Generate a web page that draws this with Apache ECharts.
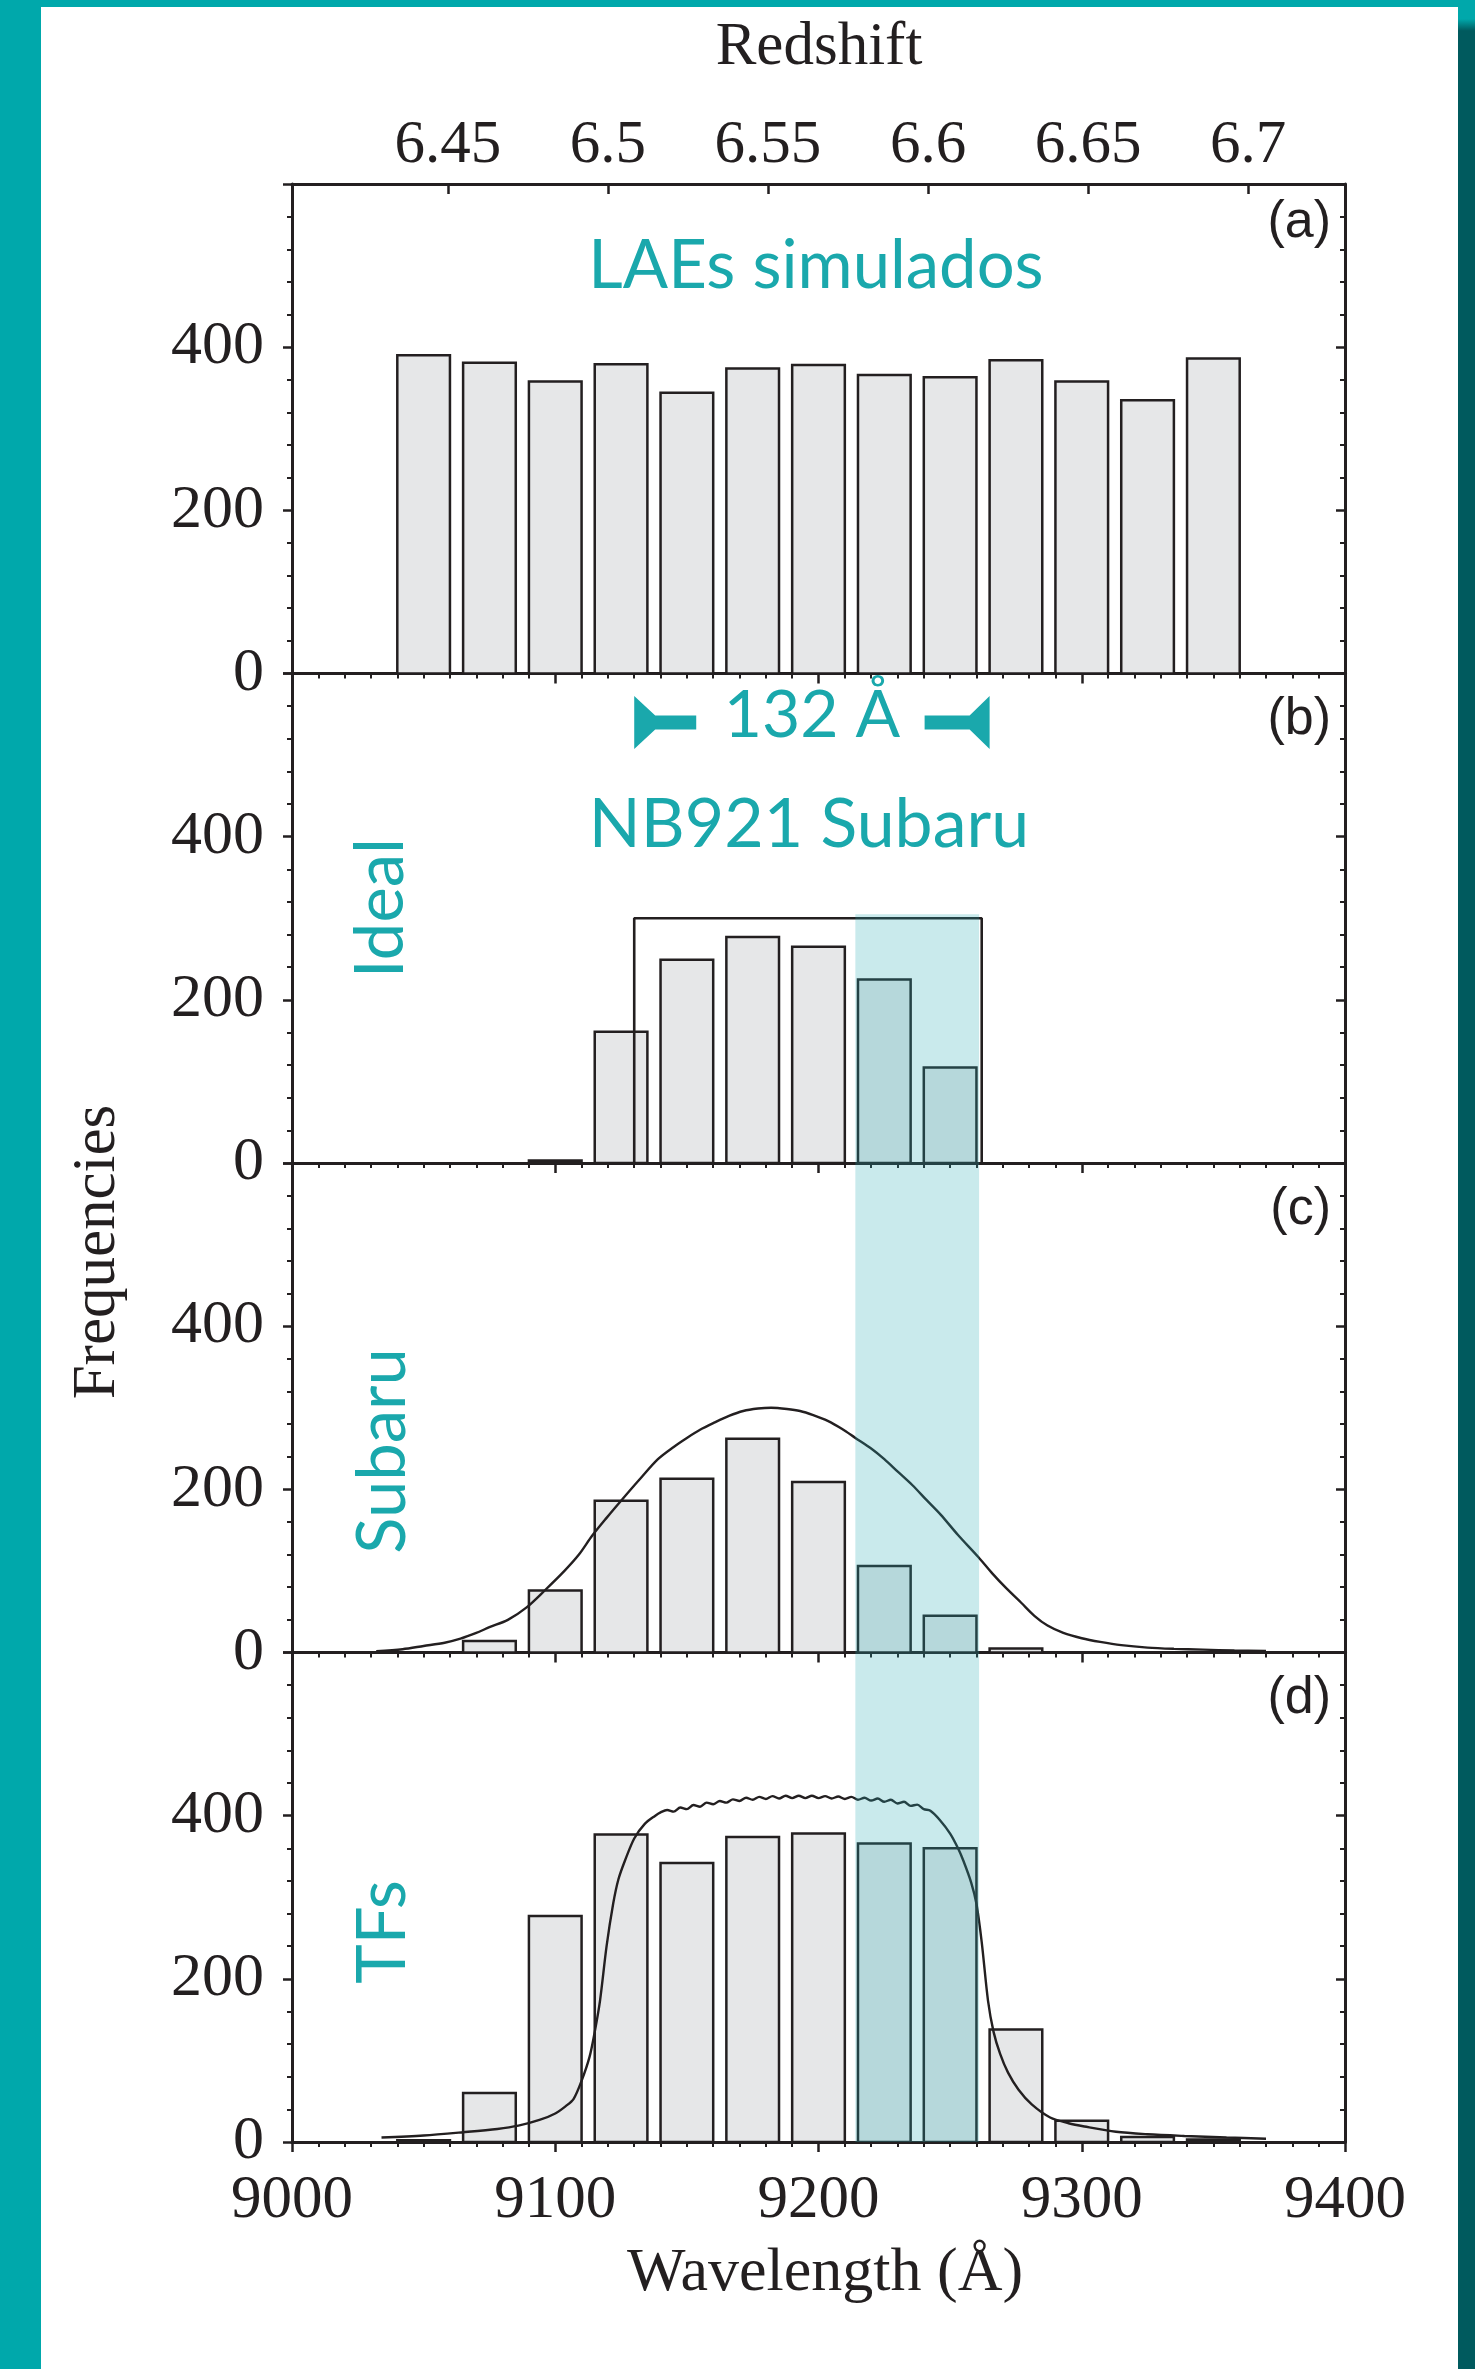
<!DOCTYPE html>
<html>
<head>
<meta charset="utf-8">
<script src="https://cdn.jsdelivr.net/npm/echarts@6/dist/echarts.min.js"></script>
<style>
html,body{margin:0;padding:0;background:#ffffff;}
#chart{width:1475px;height:2369px;}
</style>
</head>
<body>
<div id="chart"></div>
<script>
// ---------------- data ----------------
const WL_MIN = 9000, WL_MAX = 9400, WL_STEP = 100;
const FREQ_MAX = 600, FREQ_STEP = 200;
const LYA_REST = 1216;
const redshiftTicks = [6.45, 6.5, 6.55, 6.6, 6.65, 6.7];

const binCenters = [9050, 9075, 9100, 9125, 9150, 9175, 9200, 9225, 9250, 9275, 9300, 9325, 9350];
const countsA = [390, 381, 358, 379, 344, 374, 378, 366, 363, 384, 358, 335, 386];
const countsB = [0, 0, 3, 161, 249, 277, 265, 225, 117, 0, 0, 0, 0];
const countsC = [0, 14, 76, 186, 213, 262, 209, 106, 45, 5, 0, 0, 0];
const countsD = [2, 60, 277, 377, 342, 374, 378, 366, 360, 138, 26, 6, 3];

const idealFilter = [[9130, 0], [9130, 300], [9262, 300], [9262, 0]];

const subaruCurve = [
  [9032, 1.5], [9042, 4], [9050, 8], [9058, 12], [9064, 17], [9070, 24], [9075, 31], [9082, 40],
  [9089, 55], [9096, 76], [9103.5, 100], [9109, 120], [9114, 143], [9119.5, 165], [9125, 186],
  [9132, 212], [9139, 237], [9145, 252], [9150, 263], [9155, 273], [9160.6, 282], [9166, 290],
  [9171.4, 296], [9177, 299], [9182, 300], [9188, 298.5], [9193, 296], [9198, 291], [9203.5, 284],
  [9209, 274], [9214, 263], [9220, 250], [9225, 237], [9230, 222], [9235.7, 205], [9241, 187],
  [9246.4, 169], [9253, 144], [9260.7, 117], [9266, 97], [9271.4, 78.5], [9277, 61], [9282, 45],
  [9287, 33], [9293, 24], [9300, 17.5], [9307, 13], [9315, 9], [9325, 6], [9335, 4.5],
  [9346, 3.5], [9358, 2.5], [9370, 2]
];

const tfCurve = [
  [9034, 5.5], [9050, 8], [9065, 12], [9078, 16], [9086, 20], [9094, 27], [9100, 35], [9104, 44],
  [9107, 53], [9110, 75], [9113, 104], [9115, 135], [9117, 173], [9119.5, 240], [9122, 292],
  [9124, 322], [9126.5, 345], [9130, 372], [9134, 390], [9138, 400],
  [9140, 404], [9142.5, 407], [9145, 405], [9147.5, 410], [9150, 408], [9152.5, 413], [9155, 411],
  [9157.5, 416], [9160, 414], [9162.5, 418], [9165, 416], [9167.5, 420], [9170, 418], [9172.5, 422],
  [9175, 419.5], [9177.5, 423], [9180, 420.5], [9182.5, 424], [9185, 421], [9187.5, 424.5],
  [9190, 421.5], [9192.5, 424.5], [9195, 421.5], [9197.5, 424.5], [9200, 421.5], [9202.5, 424],
  [9205, 421], [9207.5, 423.5], [9210, 420.5], [9212.5, 423], [9215, 419.5], [9217.5, 422],
  [9220, 418.5], [9222.5, 421], [9225, 417], [9227.5, 419.5], [9230, 415], [9232.5, 417],
  [9235, 412], [9237.5, 413.5], [9240, 408], [9242.5, 406], [9246, 395],
  [9250, 378], [9253, 360], [9255, 345], [9258, 318], [9260, 292], [9262, 245], [9264.4, 173],
  [9266.5, 135], [9269, 108], [9272, 85], [9276, 64], [9281, 46], [9288, 30], [9295, 23],
  [9301, 19], [9313, 12.5], [9325, 9.5], [9339, 7.4], [9355, 5.5], [9370, 4]
];

const bandRange = [9214, 9261];
const bandTopB = 305;
const widthArrow = [9130, 9265];
const widthArrowLevel = 540;
const panelLetters = ['(a)', '(b)', '(c)', '(d)'];

// ---------------- style / layout ----------------
const INK = '#231f20';
const TEAL = '#1aa8ac';
const BAR_FILL = '#e6e7e8';
const BAND_FILL = 'rgba(40,170,178,0.25)';
const BAR_HALF = 10;
const SERIF = '"Liberation Serif","Times New Roman",serif';
const SANS = '"Liberation Sans",Arial,sans-serif';
const AVENIR = 'Lato,"Noto Sans",sans-serif';
const PLOT_LEFT = 292, PLOT_WIDTH = 1053;
const PANEL_TOPS = [184, 673.5, 1163, 1652.5];
const PANEL_H = 489.5;

const chart = echarts.init(document.getElementById('chart'), null, {renderer: 'canvas'});

const grids = PANEL_TOPS.map(t => ({left: PLOT_LEFT, width: PLOT_WIDTH, top: t, height: PANEL_H}));

const axisLine = {show: true, onZero: false, lineStyle: {color: INK, width: 3}};

const xAxes = PANEL_TOPS.map((t, i) => ({
  type: 'value', gridIndex: i, position: 'bottom',
  min: WL_MIN, max: WL_MAX, interval: WL_STEP,
  axisLine: axisLine,
  axisTick: {show: true, inside: false, length: 10, lineStyle: {color: INK, width: 2.5}},
  minorTick: {show: true, splitNumber: 10, length: 5, lineStyle: {color: INK, width: 2}},
  splitLine: {show: false}, minorSplitLine: {show: false},
  axisLabel: {show: i === 3, fontFamily: SERIF, fontSize: 61, color: INK, margin: 28,
    formatter: v => String(v)}
}));
xAxes.push({
  type: 'value', gridIndex: 0, position: 'top',
  min: WL_MIN / LYA_REST - 1, max: WL_MAX / LYA_REST - 1,
  axisLine: axisLine,
  axisTick: {show: true, inside: true, length: 10, customValues: redshiftTicks, lineStyle: {color: INK, width: 2.5}},
  axisLabel: {show: true, customValues: redshiftTicks, fontFamily: SERIF, fontSize: 61, color: INK, margin: 8,
    formatter: v => String(Math.round(v * 100) / 100)},
  splitLine: {show: false}
});

const yAxes = [];
PANEL_TOPS.forEach((t, i) => {
  yAxes.push({
    type: 'value', gridIndex: i, position: 'left', min: 0, max: FREQ_MAX, interval: FREQ_STEP,
    axisLine: axisLine,
    axisTick: {show: true, inside: false, length: 9, lineStyle: {color: INK, width: 2.5}},
    minorTick: {show: true, splitNumber: 5, length: 5, lineStyle: {color: INK, width: 2}},
    splitLine: {show: false}, minorSplitLine: {show: false},
    axisLabel: {show: true, showMaxLabel: false, fontFamily: SERIF, fontSize: 62, color: INK, margin: 28,
      formatter: v => String(v)}
  });
  yAxes.push({
    type: 'value', gridIndex: i, position: 'right', min: 0, max: FREQ_MAX, interval: FREQ_STEP,
    axisLine: axisLine,
    axisTick: {show: true, inside: true, length: 9, lineStyle: {color: INK, width: 2.5}},
    minorTick: {show: true, splitNumber: 5, length: 5, lineStyle: {color: INK, width: 2}},
    splitLine: {show: false}, minorSplitLine: {show: false},
    axisLabel: {show: false}
  });
});

function barSeries(idx, counts) {
  return {
    type: 'custom', xAxisIndex: idx, yAxisIndex: idx * 2, z: 3,
    data: binCenters.map((c, i) => [c, counts[i]]).filter(d => d[1] > 0),
    encode: {x: 0, y: 1},
    renderItem: (params, api) => {
      const c = api.value(0), v = api.value(1);
      const tl = api.coord([c - BAR_HALF, v]);
      const br = api.coord([c + BAR_HALF, 0]);
      return {type: 'rect',
        shape: {x: tl[0], y: tl[1], width: br[0] - tl[0], height: br[1] - tl[1]},
        style: {fill: BAR_FILL, stroke: INK, lineWidth: 2.5}};
    }
  };
}

function bandSeries(idx, top) {
  return {
    type: 'custom', xAxisIndex: idx, yAxisIndex: idx * 2, z: 20, silent: true,
    data: [[bandRange[0], bandRange[1], top]],
    encode: {x: [0, 1], y: 2},
    renderItem: (params, api) => {
      const a = api.coord([api.value(0), api.value(2)]);
      const b = api.coord([api.value(1), 0]);
      return {type: 'rect', shape: {x: a[0], y: a[1], width: b[0] - a[0], height: b[1] - a[1]},
        style: {fill: BAND_FILL}};
    }
  };
}

function curveSeries(idx, data, smooth) {
  return {
    type: 'line', xAxisIndex: idx, yAxisIndex: idx * 2, z: 6, data: data,
    symbol: 'none', smooth: smooth, lineStyle: {color: INK, width: 2.4}
  };
}

const arrowSeries = {
  type: 'custom', xAxisIndex: 1, yAxisIndex: 2, z: 8, silent: true,
  data: [[widthArrow[0], widthArrow[1], widthArrowLevel]],
  encode: {x: [0, 1], y: 2},
  renderItem: (params, api) => {
    const L = api.coord([api.value(0), api.value(2)]);
    const R = api.coord([api.value(1), api.value(2)]);
    const y = L[1];
    const H = 26.5, T = 7;
    const left = [[L[0], y - H], [L[0] + 21, y - T], [L[0] + 62, y - T], [L[0] + 62, y + T], [L[0] + 21, y + T], [L[0], y + H]];
    const right = [[R[0], y - H], [R[0] - 20, y - T], [R[0] - 65, y - T], [R[0] - 65, y + T], [R[0] - 20, y + T], [R[0], y + H]];
    return {type: 'group', children: [
      {type: 'polygon', shape: {points: left}, style: {fill: TEAL}},
      {type: 'polygon', shape: {points: right}, style: {fill: TEAL}}
    ]};
  }
};

const series = [
  barSeries(0, countsA),
  barSeries(1, countsB),
  barSeries(2, countsC),
  barSeries(3, countsD),
  {type: 'line', xAxisIndex: 1, yAxisIndex: 2, z: 6, data: idealFilter, symbol: 'none',
    lineStyle: {color: INK, width: 2.6}},
  curveSeries(2, subaruCurve, 0.3),
  curveSeries(3, tfCurve, 0.3),
  bandSeries(1, bandTopB),
  bandSeries(2, FREQ_MAX),
  bandSeries(3, FREQ_MAX),
  arrowSeries
];

function txt(x, y, text, font, color, rot) {
  const o = {type: 'text', x: x, y: y, z: 50, silent: true,
    style: {text: text, font: font, fill: color, align: 'center', verticalAlign: 'middle'}};
  if (rot) o.rotation = rot;
  return o;
}

const graphic = [
  {type: 'rect', shape: {x: 0, y: 0, width: 41, height: 2369}, style: {fill: '#00a8ab'}, silent: true},
  {type: 'rect', shape: {x: 0, y: 0, width: 1475, height: 7}, style: {fill: '#00a8ab'}, silent: true},
  {type: 'rect', shape: {x: 1458, y: 0, width: 17, height: 2369}, silent: true,
    style: {fill: new echarts.graphic.LinearGradient(0, 0, 0, 1, [
      {offset: 0, color: '#00a8ab'}, {offset: 0.008, color: '#00a8ab'},
      {offset: 0.013, color: '#005a5e'}, {offset: 1, color: '#005a5e'}])}},
  txt(819, 48, 'Redshift', '61px ' + SERIF, INK),
  txt(825, 2274, 'Wavelength (Å)', '62px ' + SERIF, INK),
  txt(98, 1252, 'Frequencies', '61px ' + SERIF, INK, Math.PI / 2),
  txt(816, 266, 'LAEs simulados', '67px ' + AVENIR, TEAL),
  txt(809, 825, 'NB921 Subaru', '68px ' + AVENIR, TEAL),
  txt(812, 716, '132 Å', '66px ' + AVENIR, TEAL),
  txt(381, 908, 'Ideal', '67px ' + AVENIR, TEAL, Math.PI / 2),
  txt(383, 1451, 'Subaru', '67px ' + AVENIR, TEAL, Math.PI / 2),
  txt(383, 1932, 'TFs', '67px ' + AVENIR, TEAL, Math.PI / 2)
];
const letterY = [223, 720, 1210, 1699];
panelLetters.forEach((s, i) => {
  graphic.push({type: 'text', x: 1331, y: letterY[i], z: 50, silent: true,
    style: {text: s, font: '52px ' + SANS, fill: INK, align: 'right', verticalAlign: 'middle'}});
});

chart.setOption({
  backgroundColor: '#ffffff',
  animation: false,
  grid: grids,
  xAxis: xAxes,
  yAxis: yAxes,
  series: series,
  graphic: graphic
});
</script>
</body>
</html>
